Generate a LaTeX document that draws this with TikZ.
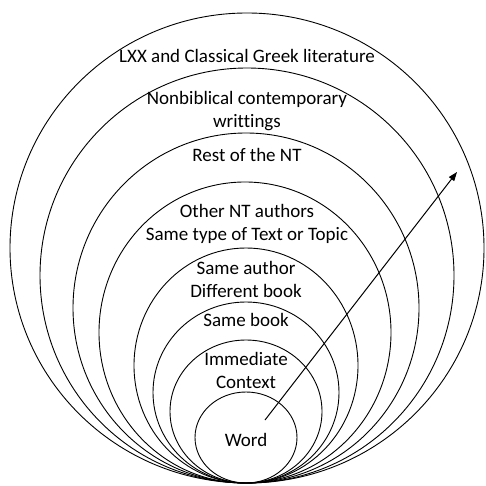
\documentclass[tikz,border=0pt]{standalone}
\usepackage{fontspec}
\setmainfont{Carlito}[Ligatures=NoCommon]
\usetikzlibrary{arrows.meta, shapes.geometric}

\begin{document}
\begin{tikzpicture}[
    x=1pt, y=-1pt,
    >={Triangle[length=9pt, width=6.5pt]},
    ring/.style={
      draw=black, ellipse, inner sep=0pt, line width=0.9pt
    },
    ringlabel/.style={
      font=\fontsize{19}{23}\selectfont, align=center, inner sep=0pt
    },
    reach arrow/.style={->, black, line width=1pt},
  ]

  %% ---- frame: keep the page at 485 x 486 ----
  \useasboundingbox (0,0) rectangle (485,486);

  %% ---- nested rings, all touching at the bottom (y = 483) ----
  \node[ring, minimum width=474pt, minimum height=470pt] (lxx)    at (247,248)   {};
  \node[ring, minimum width=414pt, minimum height=415pt] (nonbib) at (247,275.5) {};
  \node[ring, minimum width=346pt, minimum height=350pt] (restnt) at (246,308)   {};
  \node[ring, minimum width=292pt, minimum height=301pt] (othernt) at (245,332.5) {};
  \node[ring, minimum width=224pt, minimum height=235pt] (author) at (246,365.5) {};
  \node[ring, minimum width=186pt, minimum height=181pt] (book)   at (246,392.5) {};
  \node[ring, minimum width=152pt, minimum height=143pt] (context) at (246,411.5) {};
  \node[ring, minimum width=102pt, minimum height=91pt]  (word)   at (246,437.5) {};

  %% ---- ring labels ----
  \node[ringlabel] (lxxtext)     at (247,56)    {LXX and Classical Greek literature};
  \node[ringlabel] (nonbibtext)  at (247,111.5) {Nonbiblical contemporary\\writtings};
  \node[ringlabel] (resttext)    at (247,155)   {Rest of the NT};
  \node[ringlabel] (othertext)   at (247,223.5) {Other NT authors\\Same type of Text or Topic};
  \node[ringlabel] (authortext)  at (246,279)   {Same author\\Different book};
  \node[ringlabel] (booktext)    at (246,320)   {Same book};
  \node[ringlabel] (contexttext) at (246,370.5) {Immediate\\Context};
  \node[ringlabel] (wordtext)    at (246,440)   {Word};

  %% ---- arrow reaching outward from the word ----
  \coordinate (reachstart) at (265,420);
  \coordinate (reachtip)   at (457,172);
  \draw[reach arrow] (reachstart) -- (reachtip);

\end{tikzpicture}
\end{document}
